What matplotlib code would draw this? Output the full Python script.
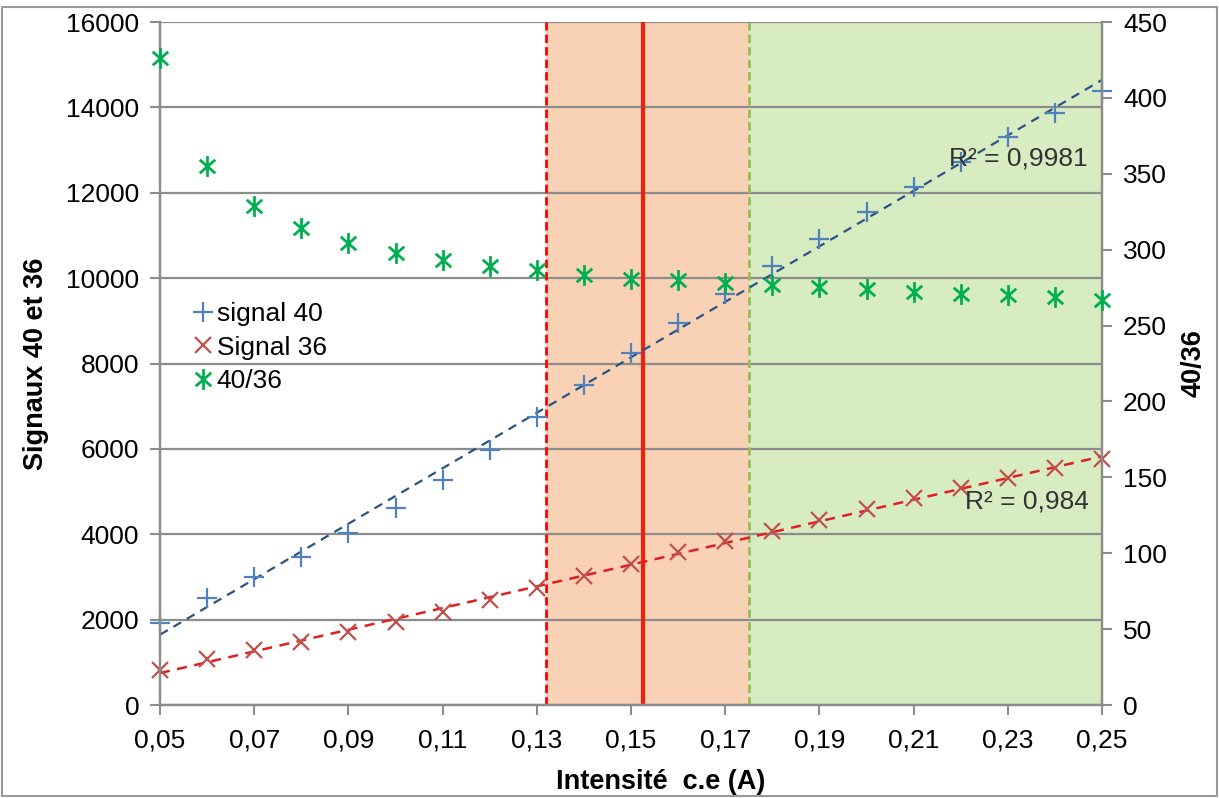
import numpy as np
import matplotlib
matplotlib.use("Agg")
import matplotlib.pyplot as plt
from matplotlib.patches import Rectangle
from matplotlib.path import Path

plt.rcParams['font.family'] = ['Liberation Sans', 'DejaVu Sans']

intensite = [0.05, 0.06, 0.07, 0.08, 0.09, 0.10, 0.11, 0.12, 0.13, 0.14, 0.15,
             0.16, 0.17, 0.18, 0.19, 0.20, 0.21, 0.22, 0.23, 0.24, 0.25]
signal40 = [1920, 2500, 3000, 3470, 4030, 4610, 5280, 5980, 6750, 7500, 8250,
            8950, 9640, 10290, 10920, 11550, 12140, 12730, 13310, 13880, 14380]
signal36 = [820, 1090, 1290, 1480, 1710, 1940, 2180, 2460, 2740, 3020, 3300,
            3590, 3840, 4080, 4330, 4590, 4850, 5090, 5320, 5550, 5770]
ratio = [426, 355, 329, 314, 304.5, 297.5, 293, 289, 286.5, 283, 281,
         280, 278, 276.5, 275.5, 274, 272, 271, 270, 269, 267]

x_dashed_red = 0.132
x_solid_red = 0.1525
x_green = 0.175
x_end = 0.25

xticks = [0.05, 0.07, 0.09, 0.11, 0.13, 0.15, 0.17, 0.19, 0.21, 0.23, 0.25]
yticks_left = list(range(0, 16001, 2000))
yticks_right = list(range(0, 451, 50))

# Excel-like star marker: X plus a vertical bar
star = Path([(0, -1), (0, 1), (-0.75, -0.65), (0.75, 0.65), (-0.75, 0.65), (0.75, -0.65)],
            [Path.MOVETO, Path.LINETO, Path.MOVETO, Path.LINETO, Path.MOVETO, Path.LINETO])

fig = plt.figure(figsize=(12.19, 7.98), dpi=100)
fig.patches.append(Rectangle((0.002, 0.003), 0.996, 0.988, transform=fig.transFigure,
                             fill=False, edgecolor='#9a9a9a', linewidth=1.5))
ax = fig.add_axes([0.1313, 0.1165, 0.7728, 0.8559])
ax2 = ax.twinx()

ax.set_xlim(0.05, 0.25)
ax.set_ylim(0, 16000)
ax2.set_ylim(0, 450)

# shaded regions
ax.axvspan(x_dashed_red, x_green, color='#f9d1b4', zorder=0.2, lw=0)
ax.axvspan(x_green, x_end, color='#d8ecc2', zorder=0.2, lw=0)

ax.set_axisbelow(True)
ax.yaxis.grid(True, color='#8c8c8c', linewidth=1.6)

ax.axvline(x_dashed_red, color='#ff0000', lw=2, ls=(0, (3, 1.5)), zorder=2)
ax.axvline(x_solid_red, color='#f02010', lw=3, zorder=2)
ax.axvline(x_green, color='#9bbb59', lw=2, ls=(0, (3, 1.5)), zorder=2)

xs = np.array(intensite)
xfit = np.array([0.05, 0.25])
p40 = np.polyfit(xs, signal40, 1)
p36 = np.polyfit(xs, signal36, 1)
ax.plot(xfit, np.polyval(p40, xfit), color='#2a5384', lw=1.6, ls=(0, (4, 3)), zorder=3)
ax.plot(xfit, np.polyval(p36, xfit), color='#e02020', lw=1.8, ls=(0, (4, 3)), zorder=3)

h1, = ax.plot(intensite, signal40, ls='none', marker='+', ms=14, mew=1.6,
              color='#4f81bd', zorder=4, label='signal 40', clip_on=False)
h2, = ax.plot(intensite, signal36, ls='none', marker='x', ms=12, mew=1.6,
              color='#c0504d', zorder=4, label='Signal 36', clip_on=False)
h3, = ax2.plot(intensite, ratio, ls='none', marker=star, ms=15, mew=2,
               color='#00b050', zorder=4, label='40/36', clip_on=False)

ax.text(0.2175, 12650, 'R² = 0,9981', fontsize=19, color='#333333', zorder=5)
ax.text(0.2208, 4600, 'R² = 0,984', fontsize=19, color='#333333', zorder=5)

def fmt_comma(v, dec):
    return f"{v:.{dec}f}".replace('.', ',')

ax.set_xticks(xticks)
ax.set_xticklabels([fmt_comma(v, 2) for v in xticks])
ax.set_yticks(yticks_left)
ax.set_yticklabels([str(v) for v in yticks_left])
ax2.set_yticks(yticks_right)
ax2.set_yticklabels([str(v) for v in yticks_right])

for a in (ax, ax2):
    for s in a.spines.values():
        s.set_color('#8c8c8c')
        s.set_linewidth(1.6)
    a.spines['top'].set_visible(False)
    a.tick_params(axis='both', colors='#8c8c8c', labelcolor='black', labelsize=19,
                  length=7, width=1.5, direction='out')
ax.tick_params(axis='x', pad=10)
ax.tick_params(axis='y', pad=8)
ax2.tick_params(axis='y', pad=8)

ax.set_xlabel('Intensité  c.e (A)', fontsize=19.5, fontweight='bold')
ax.xaxis.set_label_coords(0.531, -0.093)
ax.set_ylabel('Signaux 40 et 36', fontsize=19.5, fontweight='bold', labelpad=12)
ax2.set_ylabel('40/36', fontsize=19.5, fontweight='bold', labelpad=10, rotation=90)

ax2.legend(handles=[h1, h2, h3], loc='upper left', bbox_to_anchor=(0.025, 0.605),
           frameon=False, fontsize=19, handlelength=0.7, handletextpad=0.15,
           labelspacing=0.35, borderaxespad=0)

fig.savefig('out.png', dpi=100)
